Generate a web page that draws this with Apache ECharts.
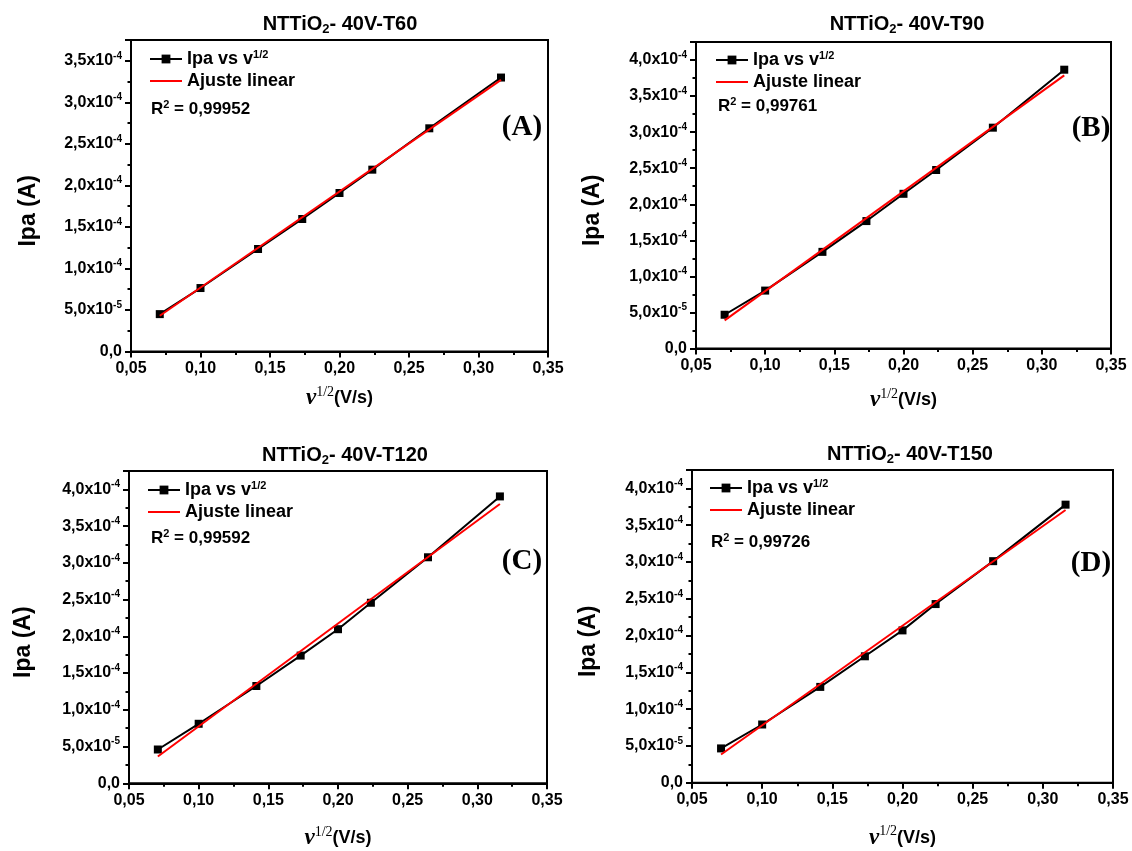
<!DOCTYPE html>
<html>
<head>
<meta charset="utf-8">
<title>NTTiO2 - 40V: Ipa vs v^1/2</title>
<script src="https://cdn.jsdelivr.net/npm/echarts@6/dist/echarts.min.js"></script>
<style>
  html, body { margin: 0; padding: 0; background: #fff; }
  #chart { width: 1132px; height: 851px; }
</style>
</head>
<body>
<div id="chart"></div>
<script>
// Square root of scan rate, v^1/2 (V/s)
const sqrtScanRate = [0.0707, 0.1000, 0.1414, 0.1732, 0.2000, 0.2236, 0.2646, 0.3162];

// Anodic peak current Ipa (A) for each annealing condition
const ipaT60  = [4.50e-5, 7.64e-5, 1.234e-4, 1.595e-4, 1.908e-4, 2.189e-4, 2.687e-4, 3.298e-4];
const ipaT90  = [4.68e-5, 8.03e-5, 1.340e-4, 1.767e-4, 2.145e-4, 2.475e-4, 3.062e-4, 3.866e-4];
const ipaT120 = [4.60e-5, 8.10e-5, 1.324e-4, 1.738e-4, 2.097e-4, 2.457e-4, 3.076e-4, 3.904e-4];
const ipaT150 = [4.66e-5, 7.91e-5, 1.302e-4, 1.718e-4, 2.070e-4, 2.428e-4, 3.011e-4, 3.779e-4];

// Linear fit values at the first and last v^1/2
const fitT60  = [4.30e-5, 3.270e-4];
const fitT90  = [3.90e-5, 3.788e-4];
const fitT120 = [3.64e-5, 3.800e-4];
const fitT150 = [3.84e-5, 3.707e-4];

const sampleNames = ['T60', 'T90', 'T120', 'T150'];
const r2Values = ['0,99952', '0,99761', '0,99592', '0,99726'];
const panelLetters = ['(A)', '(B)', '(C)', '(D)'];
const yMaxValues = [3.75e-4, 4.25e-4, 4.25e-4, 4.25e-4];
const xTickRange = [0.05, 0.35, 0.05];   // min, max, step
const yTickStep = 5e-5;

const ipaSeries = [ipaT60, ipaT90, ipaT120, ipaT150];
const fitSeries = [fitT60, fitT90, fitT120, fitT150];

// Panel layout (pixels)
const layout = [
  { grid: { left: 131, top: 40, width: 417, height: 311.5 }, title: [340, 24], legend: [149, 49], r2: [151, 109], letter: [522, 128], xGap: 34, yGap: 91 },
  { grid: { left: 696, top: 42, width: 415, height: 306.5 }, title: [907, 24], legend: [715, 50], r2: [718, 106], letter: [1091, 129], xGap: 39, yGap: 92 },
  { grid: { left: 129, top: 471, width: 418, height: 312.3 }, title: [345, 455], legend: [147, 480], r2: [151, 538], letter: [522, 562], xGap: 42, yGap: 94 },
  { grid: { left: 692, top: 470, width: 421, height: 312.7 }, title: [910, 454], legend: [709, 478], r2: [711, 542], letter: [1091, 564], xGap: 42, yGap: 92 }
];

const SANS = '"Liberation Sans", Arial, Helvetica, sans-serif';
const SERIF = '"Liberation Serif", "Times New Roman", serif';
const BLACK = '#000';
const RED = '#ff0000';
const NAME_IPA = 'Ipa vs v^1/2';
const NAME_FIT = 'Ajuste linear';

function yLabel(v) {
  if (Math.abs(v) < 1e-12) return '{n|0,0}';
  const steps = v / yTickStep;
  if (Math.abs(steps - Math.round(steps)) > 1e-6) return '';
  const exp = Math.floor(Math.log10(v) + 1e-9);
  const mant = (v / Math.pow(10, exp)).toFixed(1).replace('.', ',');
  return '{n|' + mant + 'x10}{e|' + exp + '}';
}

const tickLine = { color: BLACK, width: 2 };

const grids = [], xAxes = [], yAxes = [], series = [], legends = [], graphics = [];

layout.forEach((L, i) => {
  grids.push(Object.assign({ show: true, borderColor: BLACK, borderWidth: 2, backgroundColor: '#fff', containLabel: false }, L.grid));

  xAxes.push({
    type: 'value', gridIndex: i,
    min: xTickRange[0], max: xTickRange[1], interval: xTickRange[2],
    name: '{nu|ν}{sup|1/2}{u|(V/s)}',
    nameLocation: 'middle', nameGap: L.xGap,
    nameTextStyle: {
      rich: {
        nu: { fontFamily: SERIF, fontStyle: 'italic', fontWeight: 'bold', fontSize: 23, color: BLACK, lineHeight: 26 },
        sup: { fontFamily: SERIF, fontSize: 14, color: BLACK, verticalAlign: 'top', lineHeight: 14 },
        u: { fontFamily: SANS, fontWeight: 'bold', fontSize: 18, color: BLACK, lineHeight: 26 }
      }
    },
    axisLine: { show: true, onZero: false, lineStyle: tickLine },
    axisTick: { show: true, inside: false, length: 6, lineStyle: tickLine },
    minorTick: { show: true, splitNumber: 2, length: 3.5, lineStyle: tickLine },
    splitLine: { show: false }, minorSplitLine: { show: false },
    axisLabel: {
      margin: 9, color: BLACK, fontFamily: SANS, fontWeight: 'bold', fontSize: 16,
      formatter: v => v.toFixed(2).replace('.', ',')
    }
  });

  yAxes.push({
    type: 'value', gridIndex: i,
    min: 0, max: yMaxValues[i], interval: yTickStep,
    name: 'Ipa (A)', nameLocation: 'middle', nameGap: L.yGap,
    nameTextStyle: { fontFamily: SANS, fontWeight: 'bold', fontSize: 23, color: BLACK, padding: [0, 30, 0, 0] },
    axisLine: { show: true, onZero: false, lineStyle: tickLine },
    axisTick: { show: true, inside: false, length: 6, lineStyle: tickLine },
    minorTick: { show: true, splitNumber: 2, length: 3.5, lineStyle: tickLine },
    splitLine: { show: false }, minorSplitLine: { show: false },
    axisLabel: {
      margin: 9, formatter: yLabel,
      rich: {
        n: { fontFamily: SANS, fontWeight: 'bold', fontSize: 16, color: BLACK, lineHeight: 20 },
        e: { fontFamily: SANS, fontWeight: 'bold', fontSize: 10, color: BLACK, verticalAlign: 'top', lineHeight: 10 }
      }
    }
  });

  const ipa = ipaSeries[i];
  const fit = fitSeries[i];
  series.push({
    type: 'line', name: NAME_IPA, xAxisIndex: i, yAxisIndex: i,
    data: sqrtScanRate.map((x, k) => [x, ipa[k]]),
    symbol: 'rect', symbolSize: 8,
    lineStyle: { color: BLACK, width: 2 }, itemStyle: { color: BLACK },
    z: 2, animation: false
  });
  series.push({
    type: 'line', name: NAME_FIT, xAxisIndex: i, yAxisIndex: i,
    data: [[sqrtScanRate[0], fit[0]], [sqrtScanRate[sqrtScanRate.length - 1], fit[1]]],
    symbol: 'none', showSymbol: false,
    lineStyle: { color: RED, width: 2 }, itemStyle: { color: RED },
    z: 3, animation: false
  });

  legends.push({
    orient: 'vertical', left: L.legend[0], top: L.legend[1], padding: 0,
    itemGap: 2, itemWidth: 32, itemHeight: 11, itemTextGap: 4,
    selectedMode: false,
    data: [{ name: NAME_IPA }, { name: NAME_FIT, itemStyle: { opacity: 0 } }],
    formatter: n => n === NAME_FIT ? 'Ajuste linear' : 'Ipa vs v{sup|1/2}',
    textStyle: {
      fontFamily: SANS, fontWeight: 'bold', fontSize: 18, color: BLACK, lineHeight: 20,
      rich: { sup: { fontFamily: SANS, fontWeight: 'bold', fontSize: 11, color: BLACK, verticalAlign: 'top', lineHeight: 11 } }
    }
  });

  graphics.push({
    type: 'text', x: L.title[0], y: L.title[1],
    style: {
      text: '{m|NTTiO}{s|2}{m|- 40V-' + sampleNames[i] + '}',
      align: 'center', verticalAlign: 'middle',
      rich: {
        m: { fontFamily: SANS, fontWeight: 'bold', fontSize: 20, fill: BLACK, lineHeight: 24 },
        s: { fontFamily: SANS, fontWeight: 'bold', fontSize: 13, fill: BLACK, verticalAlign: 'bottom', lineHeight: 13 }
      }
    }
  });
  graphics.push({
    type: 'text', x: L.r2[0], y: L.r2[1],
    style: {
      text: '{m|R}{s|2}{m| = ' + r2Values[i] + '}',
      align: 'left', verticalAlign: 'middle',
      rich: {
        m: { fontFamily: SANS, fontWeight: 'bold', fontSize: 17, fill: BLACK, lineHeight: 20 },
        s: { fontFamily: SANS, fontWeight: 'bold', fontSize: 11, fill: BLACK, verticalAlign: 'top', lineHeight: 11 }
      }
    }
  });
  graphics.push({
    type: 'text', x: L.letter[0], y: L.letter[1],
    style: {
      text: panelLetters[i], align: 'center', verticalAlign: 'middle',
      fontFamily: SERIF, fontWeight: 'bold', fontSize: 29, fill: BLACK
    }
  });
});

const chart = echarts.init(document.getElementById('chart'), null, { renderer: 'canvas' });
chart.setOption({
  animation: false,
  backgroundColor: '#fff',
  grid: grids, xAxis: xAxes, yAxis: yAxes,
  legend: legends, series: series, graphic: graphics,
  tooltip: { show: false }
});
</script>
</body>
</html>
